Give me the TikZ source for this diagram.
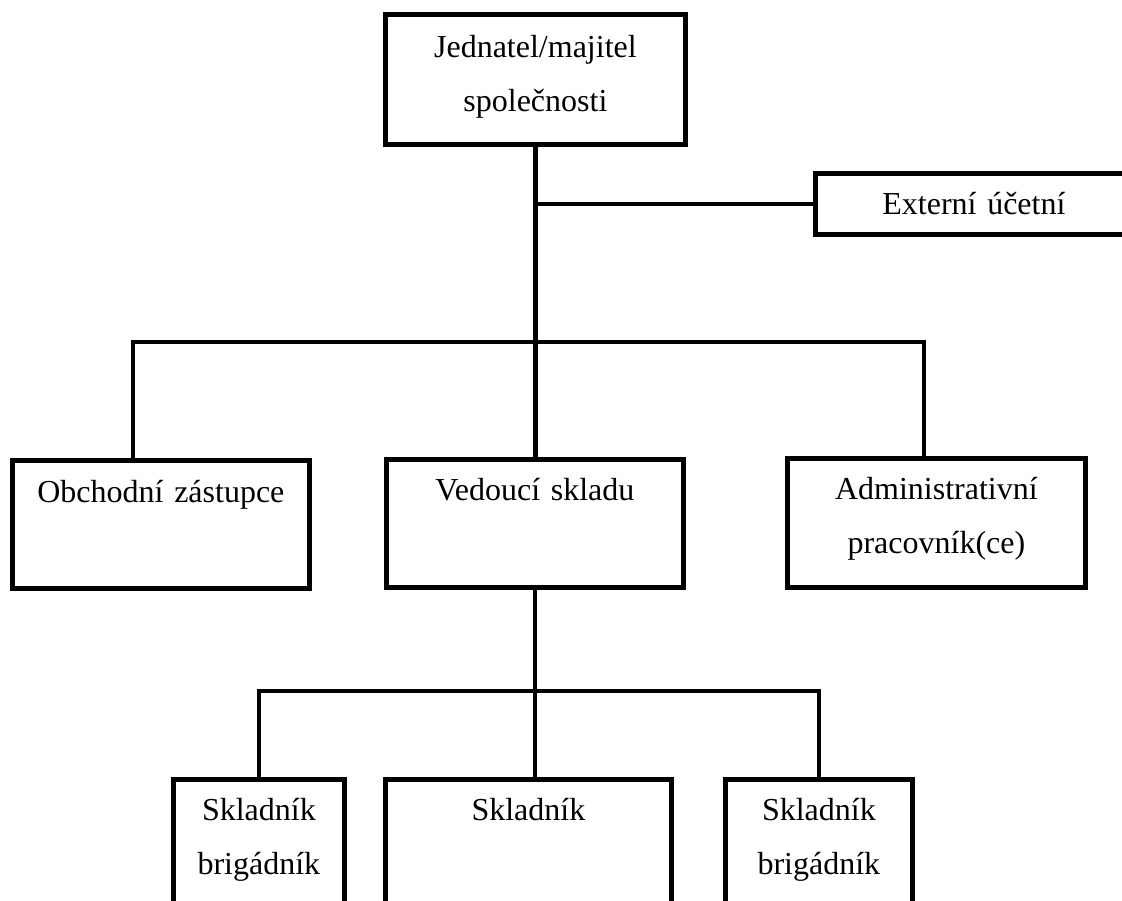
\documentclass[tikz,border=0pt]{standalone}
\usepackage{fontspec}
\setmainfont{Liberation Serif}
\usepackage{tikz}
\tikzset{>=latex}

\begin{document}
\begin{tikzpicture}[x=1pt, y=-1pt, line join=miter]
                        % boxes: text width, baseline from top (text height), rest of height (text depth)
                        \tikzstyle{box}=[draw=black, line width=4.8pt, inner sep=0pt, align=center, anchor=north west, font=\fontsize{32}{54}\selectfont]
                        \tikzstyle{link}=[black, line width=4.6pt]
                        \useasboundingbox (0,0) rectangle (1122,901);

                        \node[box, text width=300pt, text height=43pt, text depth=87pt] (top) at (383,12) {Jednatel/majitel\\společnosti};
                        \node[box, text width=317pt, text height=41pt, text depth=20pt] (ext) at (813,171) {Externí účetní};

                        \node[box, text width=297pt, text height=42pt, text depth=86pt] (obch) at (10,458) {Obchodní zástupce};
                        \node[box, text width=297pt, text height=41pt, text depth=87pt] (ved) at (384,457) {Vedoucí skladu};
                        \node[box, text width=298pt, text height=41pt, text depth=88pt] (adm) at (785,456) {Administrativní\\pracovník(ce)};

                        \node[box, text width=171pt, text height=41pt, text depth=160pt] (skl1) at (171,777) {Skladník\\brigádník};
                        \node[box, text width=286pt, text height=41pt, text depth=160pt] (skl2) at (383,777) {Skladník};
                        \node[box, text width=187pt, text height=41pt, text depth=160pt] (skl3) at (723,777) {Skladník\\brigádník};

                        \coordinate (bl) at (133,342);
                        \coordinate (br) at (924,342);
                        \coordinate (sb) at (535,691);

                        \draw[link] (top.south) -- (top.south |- ved.north);
                        \draw[link] (top.south |- ext.west) -- (ext.west);
                        \draw[link] (obch.north -| bl) -- (bl) -- (br) -- (adm.north -| br);

                        \draw[link] (ved.south) -- (ved.south |- skl2.north);
                        \draw[link] (skl1.north) |- (sb) -| (skl3.north);

                \end{tikzpicture}
\end{document}
